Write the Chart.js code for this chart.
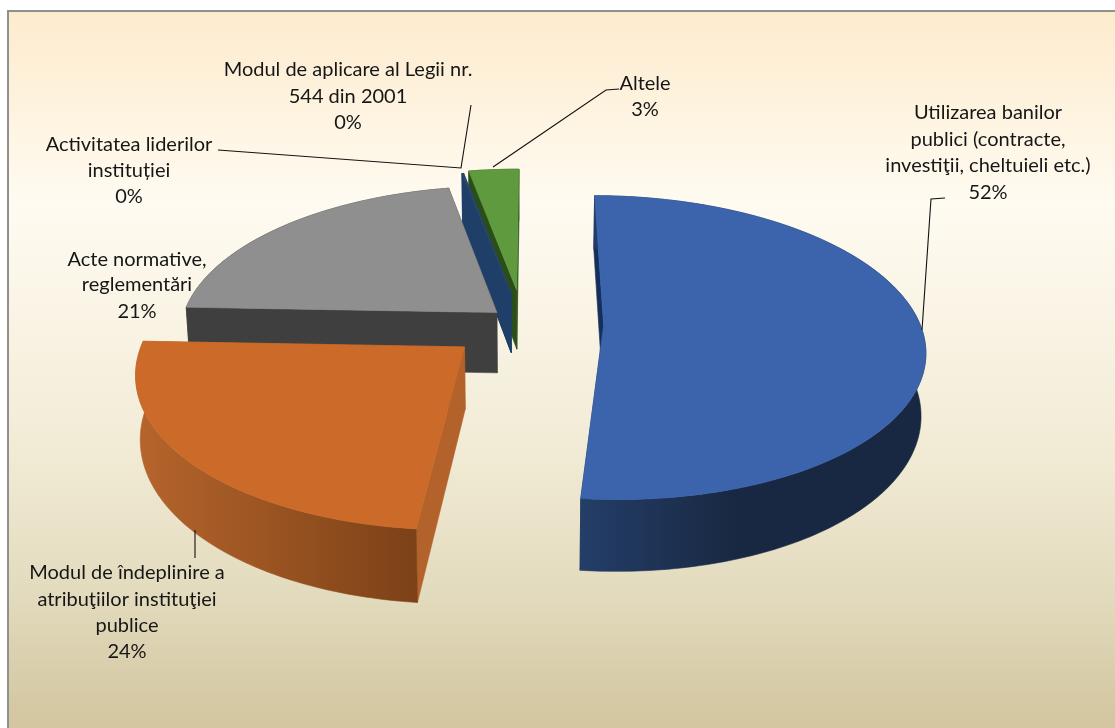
<!DOCTYPE html>
<html><head><meta charset="utf-8">
<style>html,body{margin:0;padding:0;background:#fff}canvas{display:block}</style>
<script src="https://cdn.jsdelivr.net/npm/chart.js@4"></script>
</head><body><canvas id="c" width="1115" height="728"></canvas>
<script>
const categories = ["Utilizarea banilor publici (contracte, investiţii, cheltuieli etc.)","Modul de îndeplinire a atribuţiilor instituţiei publice","Acte normative, reglementări","Activitatea liderilor instituției","Modul de aplicare al Legii nr. 544 din 2001","Altele"];
const values = [51.5, 24, 21.4, 0.05, 0.05, 3];
const percentLabels = ["52%","24%","21%","0%","0%","3%"];
const explosion = [25.5, 24, 11, 21, 21, 23];
const faceColors = ["#3B64AD","#CC6B29","#8F8F8F","#28496F","#28496F","#5F9A3F"];
const radialColors = ["#14305A","#B2622A","#3F3F3F","#1F3F68","#1F3F68","#2B4D18"];
const rimLeft = ["#243E68","#B6652C","#3F3F3F","#1F3F68","#1F3F68","#2B4D18"];
const rimRight = ["#182842","#7C4117","#3F3F3F","#1F3F68","#1F3F68","#2B4D18"];

/* perspective view of the pie plane */
const view = {cx:523, cy:323, ax:316, ay:148, p:0.1486, depth:61, taper:0.012};
function project(u,v){const w=1-view.p*v;return {x:view.cx+view.ax*u/w, y:view.cy+view.ay*v/w, w};}
function lower(pt){return {x:view.cx+(pt.x-view.cx)*(1-view.taper), y:pt.y+view.depth/pt.w};}

function poly(ctx,pts,fill){ctx.beginPath();pts.forEach((q,i)=>i?ctx.lineTo(q.x,q.y):ctx.moveTo(q.x,q.y));ctx.closePath();ctx.fillStyle=fill;ctx.fill();ctx.strokeStyle=fill;ctx.lineWidth=0.6;ctx.stroke();}

const pie3d = {
  id:'pie3d',
  beforeDraw(chart){
    const {ctx,width,height}=chart;
    ctx.save();
    ctx.fillStyle='#fff';ctx.fillRect(0,0,width,height);
    const g=ctx.createLinearGradient(0,10,0,728);
    g.addColorStop(0,'#FDEBCD');g.addColorStop(0.27,'#FFFBF1');g.addColorStop(0.62,'#F1EBD5');g.addColorStop(0.82,'#E2DABC');g.addColorStop(1,'#D2C59F');
    ctx.fillStyle=g;ctx.fillRect(8,11,width,height);
    ctx.strokeStyle='#8F8F8F';ctx.lineWidth=2;
    ctx.beginPath();ctx.moveTo(8,height);ctx.lineTo(8,11);ctx.lineTo(width,11);ctx.stroke();
    ctx.restore();
  },
  beforeDatasetDraw(chart,args){
    const {ctx}=chart, arcs=args.meta.data;
    ctx.save();
    for(let i=arcs.length-1;i>=0;i--){
      const {startAngle:a0,endAngle:a1}=arcs[i].getProps(['startAngle','endAngle'],true);
      const e=arcs[i].options.offset/100, mid=(a0+a1)/2;
      const ou=e*Math.cos(mid), ov=e*Math.sin(mid);
      const apex=project(ou,ov), rim=[];
      const n=Math.max(2,Math.ceil((a1-a0)/(Math.PI/180)));
      for(let k=0;k<=n;k++){const a=a0+(a1-a0)*k/n;rim.push(project(ou+Math.cos(a),ov+Math.sin(a)));}
      const low=rim.map(lower), lowApex=lower(apex);
      poly(ctx,[apex,rim[0],low[0],lowApex],radialColors[i]);
      poly(ctx,[apex,rim[n],low[n],lowApex],radialColors[i]);
      const xs=rim.map(q=>q.x), g=ctx.createLinearGradient(Math.min(...xs),0,Math.max(...xs),0);
      g.addColorStop(0,rimLeft[i]);g.addColorStop(i===0?0.45:1,rimRight[i]);
      poly(ctx,rim.concat(low.slice().reverse()),g);
      poly(ctx,[apex].concat(rim),arcs[i].options.backgroundColor);
    }
    ctx.restore();
    return false;
  },
  afterDraw(chart){
    const {ctx}=chart;
    ctx.save();
    ctx.strokeStyle='#111';ctx.lineWidth=1.1;
    leaders.forEach(l=>{ctx.beginPath();l.forEach((q,i)=>i?ctx.lineTo(q[0],q[1]):ctx.moveTo(q[0],q[1]));ctx.stroke();});
    ctx.fillStyle='#161616';ctx.font='20px Lato';ctx.textAlign='center';ctx.textBaseline='middle';
    labelLayout.forEach(b=>{
      const lines=b.lines.concat(percentLabels[b.i]);
      lines.forEach((t,k)=>ctx.fillText(t,b.x,b.ys[k]));
    });
    ctx.restore();
  }
};
const leaders=[[[922,330],[931,199],[945,198]],[[195,530],[195,558]],[[218,150],[461,168],[471,105]],[[493,167],[606,90],[619,89]]];
const labelLayout=[
 {i:0,x:988,ys:[113,140,166,193],lines:["Utilizarea banilor","publici (contracte,","investiţii, cheltuieli etc.)"]},
 {i:1,x:127,ys:[573,600,626,652],lines:["Modul de îndeplinire a","atribuţiilor instituţiei","publice"]},
 {i:2,x:137,ys:[260,285,312],lines:["Acte normative,","reglementări"]},
 {i:3,x:129,ys:[145,171,197],lines:["Activitatea liderilor","instituției"]},
 {i:4,x:348,ys:[70,97,123],lines:["Modul de aplicare al Legii nr.","544 din 2001"]},
 {i:5,x:645,ys:[84,110],lines:["Altele"]}
];
new Chart(document.getElementById('c'),{
  type:'pie',
  data:{labels:categories,datasets:[{data:values,backgroundColor:faceColors,offset:explosion,borderWidth:0}]},
  options:{responsive:false,animation:false,rotation:0.3,events:[],
    plugins:{legend:{display:false},tooltip:{enabled:false}}},
  plugins:[pie3d]
});
</script></body></html>
